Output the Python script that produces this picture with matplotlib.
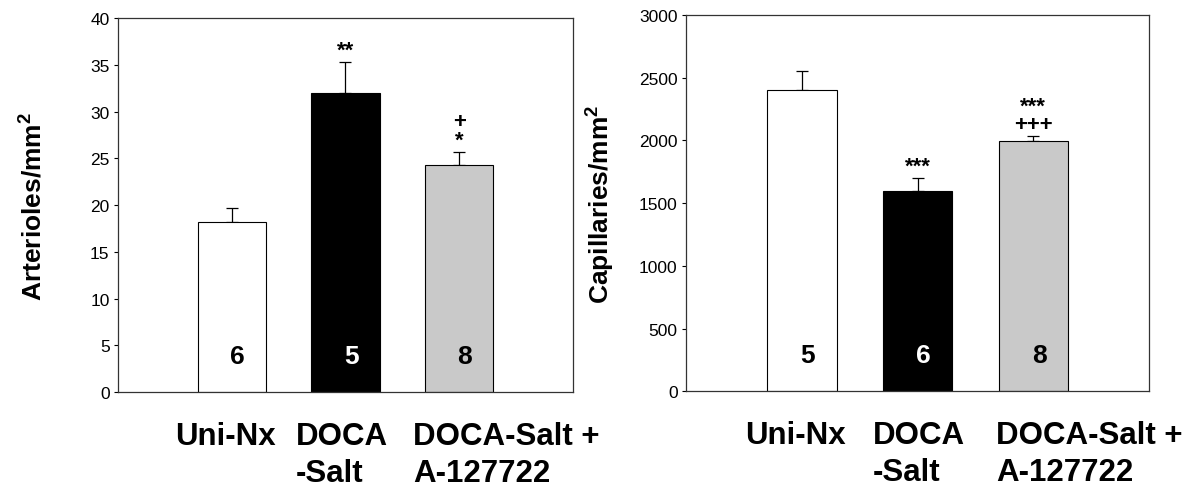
import numpy as np
import matplotlib
matplotlib.use("Agg")
import matplotlib.pyplot as plt
import matplotlib.transforms as mtransforms

plt.rcParams['font.family'] = ['Liberation Sans', 'DejaVu Sans']
plt.rcParams['mathtext.default'] = 'regular'

# data
categories = ["Uni-Nx", "DOCA\n-Salt", "DOCA-Salt +\nA-127722"]
arteriole_means = [18.2, 32.0, 24.3]
arteriole_sem = [1.5, 3.3, 1.4]
arteriole_n = [6, 5, 8]
arteriole_marks = ["", "**", "+\n*"]

capillary_means = [2400, 1595, 1995]
capillary_sem = [153, 105, 38]
capillary_n = [5, 6, 8]
capillary_marks = ["", "***", "***\n+++"]

bar_colors = ["white", "black", "#c9c9c9"]
n_colors = ["black", "white", "black"]


def draw_panel(ax, means, sem, n, marks, ylim, ystep, ylabel, label_x, label_lx):
    x = np.arange(1, len(means) + 1)
    ax.bar(x, means, width=0.6, color=bar_colors, edgecolor="black", linewidth=0.8, zorder=2)
    ax.errorbar(x, means, yerr=[np.zeros(len(sem)), sem], fmt="none", ecolor="black",
                elinewidth=0.9, capsize=4, capthick=0.9, zorder=1)
    ax.set_xlim(0, 4)
    ax.set_ylim(*ylim)
    ax.set_yticks(np.arange(ylim[0], ylim[1] + ystep / 2, ystep))
    ax.set_xticks([])
    ax.tick_params(axis="y", direction="out", length=3, width=0.8, labelsize=12.5, pad=3)
    for s in ax.spines.values():
        s.set_linewidth(0.9)
        s.set_color("#333333")

    ax.set_ylabel(ylabel, fontsize=19, fontweight="bold")
    ax.yaxis.set_label_coords(label_lx, 0.5)

    trans = mtransforms.blended_transform_factory(ax.transData, ax.transAxes)
    for xi, ni, c in zip(x, n, n_colors):
        ax.text(xi + 0.05, 0.096, str(ni), transform=trans, ha="center", va="center",
                fontsize=19, fontweight="bold", color=c, zorder=3)

    for xi, m, e, t in zip(x, means, sem, marks):
        if t:
            ax.annotate(t, (xi, m + e), xytext=(0, 1), textcoords="offset points",
                        ha="center", va="bottom", fontsize=16, fontweight="bold",
                        linespacing=0.85)

    for lx, cat in zip(label_x, categories):
        ax.text(lx, -0.077, cat, transform=trans, ha="left", va="top",
                fontsize=22.5, fontweight="bold", linespacing=1.3, multialignment="left")


fig = plt.figure(figsize=(11.89, 4.89), dpi=100)
ax1 = fig.add_axes([0.0992, 0.196, 0.3827, 0.765])
ax2 = fig.add_axes([0.577, 0.198, 0.3894, 0.769])

draw_panel(ax1, arteriole_means, arteriole_sem, arteriole_n, arteriole_marks,
           (0, 40), 5, "Arterioles/mm$^2$", [0.50, 1.565, 2.593], -0.155)
draw_panel(ax2, capillary_means, capillary_sem, capillary_n, capillary_marks,
           (0, 3000), 500, "Capillaries/mm$^2$", [0.51, 1.616, 2.678], -0.15)

fig.savefig("out.png", dpi=100)
